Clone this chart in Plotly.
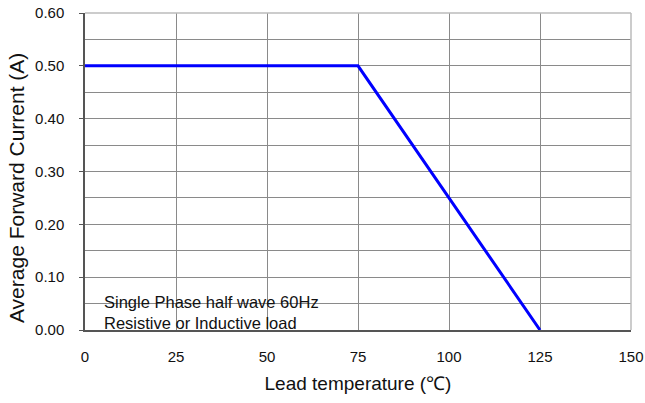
import plotly.graph_objects as go

# derating curve
temperatura = [0, 75, 125]
corriente = [0.50, 0.50, 0.00]

x_ticks = [0, 25, 50, 75, 100, 125, 150]
y_ticks = [0.0, 0.1, 0.2, 0.3, 0.4, 0.5, 0.6]
y_labels = ["0.00", "0.10", "0.20", "0.30", "0.40", "0.50", "0.60"]

titulo_y = "Average Forward Current (A)"
nota = "Single Phase half wave 60Hz<br>Resistive or Inductive load"

FUENTE = "Liberation Sans, Arial, sans-serif"
GRIS = "#8a8a8a"

fig = go.Figure()
fig.add_trace(go.Scatter(
    x=temperatura,
    y=corriente,
    mode="lines",
    line=dict(color="#0000ff", width=3),
    showlegend=False,
))

fig.update_layout(
    width=645,
    height=403,
    paper_bgcolor="white",
    plot_bgcolor="white",
    font=dict(family=FUENTE, size=15, color="#111"),
    margin=dict(l=85, r=14, t=13, b=73, autoexpand=False),
    xaxis=dict(
        range=[0, 150],
        tickvals=x_ticks,
        ticktext=[str(v) for v in x_ticks],
        automargin=False,
        ticklabeloverflow="allow",
        showgrid=True,
        gridcolor=GRIS,
        gridwidth=1,
        zeroline=False,
        showline=True,
        linecolor="#555",
        linewidth=1.5,
        ticks="",
        ticklabelstandoff=12,
        title=dict(text="Lead temperature (℃)", font=dict(size=19), standoff=13),
    ),
    yaxis=dict(
        range=[0, 0.6],
        tickvals=y_ticks,
        ticktext=y_labels,
        automargin=False,
        ticklabeloverflow="allow",
        showgrid=True,
        gridcolor=GRIS,
        gridwidth=1,
        minor=dict(dtick=0.05, showgrid=True, gridcolor=GRIS, gridwidth=1),
        zeroline=False,
        showline=True,
        linecolor="#555",
        linewidth=1.5,
        ticks="outside",
        ticklen=4,
        tickcolor="#555",
        ticklabelstandoff=12,
    ),
)

# top and right frame
fig.add_shape(type="line", xref="paper", yref="paper", x0=0, x1=1, y0=1, y1=1,
              line=dict(color="#bbbbbb", width=1.5))
fig.add_shape(type="line", xref="paper", yref="paper", x0=1, x1=1, y0=0, y1=1,
              line=dict(color="#bbbbbb", width=1.5))

# y title sits a little below the middle of the axis in the original
fig.add_annotation(
    x=-0.1245, y=0.448, xref="paper", yref="paper",
    xanchor="center", yanchor="middle", textangle=-90,
    text=titulo_y, showarrow=False,
    font=dict(size=21, color="#111"),
)

fig.add_annotation(
    x=0.031, y=-0.014, xref="paper", yref="paper",
    xanchor="left", yanchor="bottom",
    text=nota, showarrow=False, align="left",
    font=dict(size=16.5, color="#111"),
)

# drop the page's default 8px body margin so the figure fills the window
fig.write_html(
    "out.html",
    config={"displayModeBar": False},
    post_script="document.body.style.margin='0';",
)
